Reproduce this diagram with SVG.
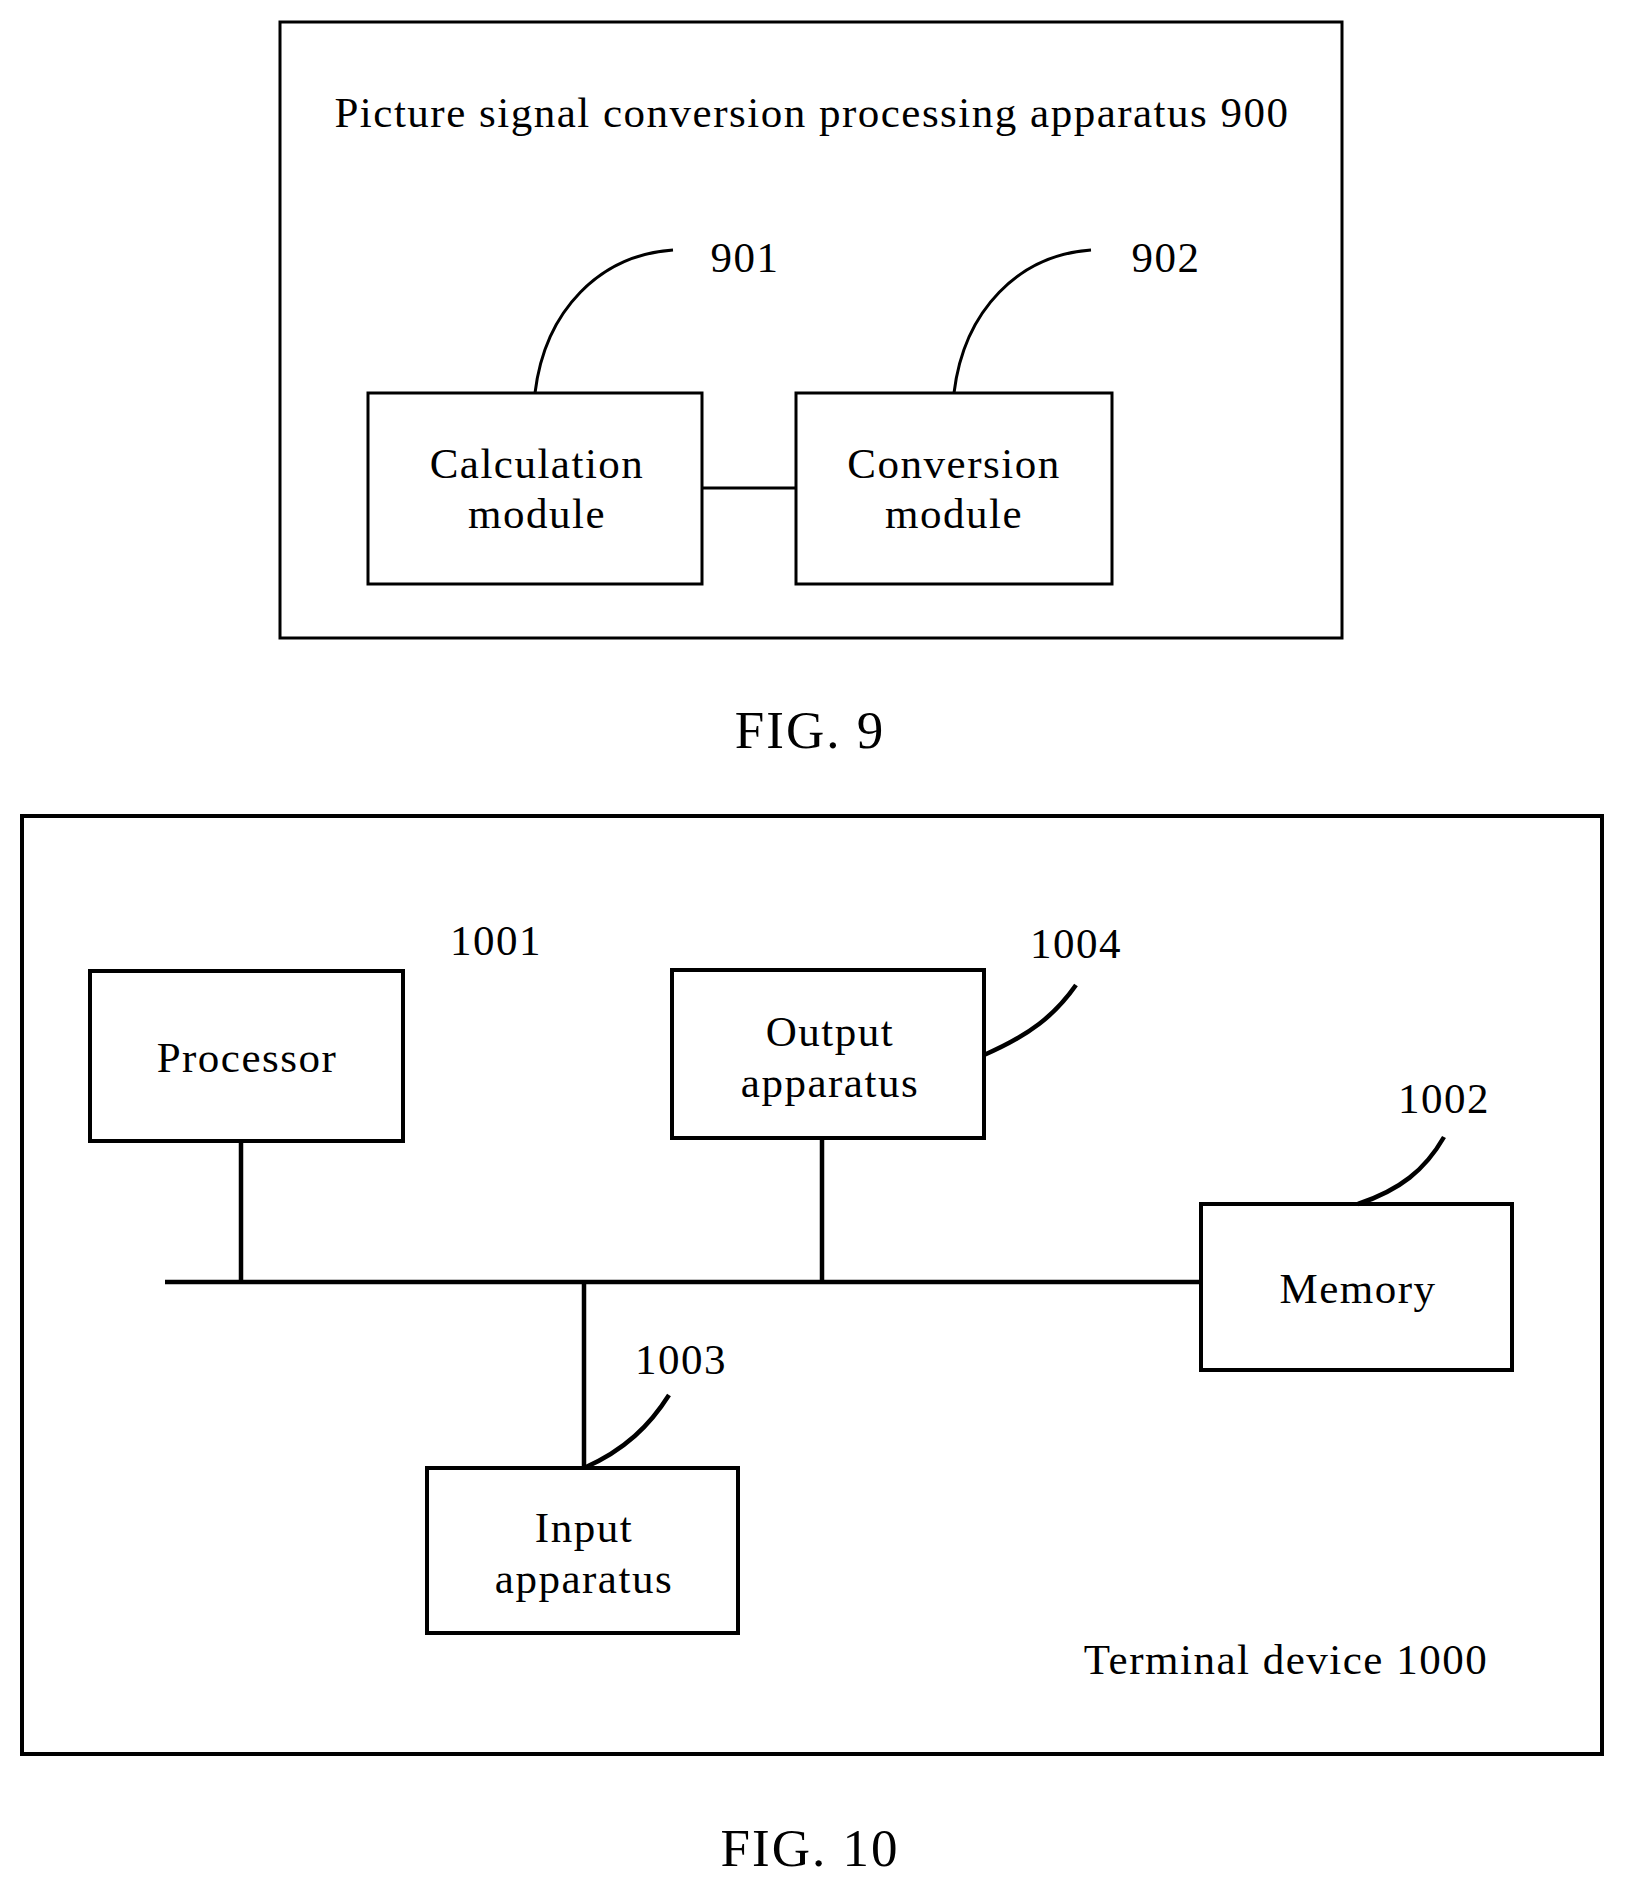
<svg xmlns="http://www.w3.org/2000/svg" width="1628" height="1895" viewBox="0 0 1628 1895">
<style>
rect{fill:none;stroke:#000;stroke-width:3}
.t rect{stroke-width:4}
.c path,.c line{fill:none;stroke:#000;stroke-width:3}
.c .b{stroke-width:4.5}
text{font-family:"Liberation Serif",serif;font-size:43px;letter-spacing:1.5px;text-anchor:middle;fill:#000}
.fig{font-size:53px;letter-spacing:2px}
</style>
<rect width="1628" height="1895" style="fill:#fff;stroke:none"/>
<g id="app900"><rect x="280" y="22" width="1062" height="616"/><text x="812" y="127">Picture signal conversion processing apparatus 900</text></g>
<g id="calc"><rect x="368" y="393" width="334" height="191"/><text x="537" y="478">Calculation</text><text x="537" y="528">module</text></g>
<g id="conv"><rect x="796" y="393" width="316" height="191"/><text x="954" y="478">Conversion</text><text x="954" y="528">module</text></g>
<text x="745" y="272">901</text><text x="1166" y="272">902</text>
<text class="fig" x="810" y="748">FIG. 9</text>
<g class="t">
<g id="dev1000"><rect x="22" y="816" width="1580" height="938"/><text x="1286" y="1674">Terminal device 1000</text></g>
<g id="proc"><rect x="90" y="971" width="313" height="170"/><text x="247" y="1072">Processor</text></g>
<g id="out"><rect x="672" y="970" width="312" height="168"/><text x="830" y="1046">Output</text><text x="830" y="1097">apparatus</text></g>
<g id="mem"><rect x="1201" y="1204" width="311" height="166"/><text x="1358" y="1303">Memory</text></g>
<g id="in"><rect x="427" y="1468" width="311" height="165"/><text x="584" y="1542">Input</text><text x="584" y="1593">apparatus</text></g>
</g>
<text x="496" y="955">1001</text><text x="1076" y="958">1004</text><text x="1444" y="1113">1002</text><text x="681" y="1374">1003</text>
<text class="fig" x="810" y="1866">FIG. 10</text>
<g class="c" id="connectors">
<line x1="702" y1="488" x2="796" y2="488"/>
<path d="M535,393 C545,310 600,255 673,250"/>
<path d="M954,393 C964,310 1019,255 1091,250"/>
<line class="b" x1="165" y1="1282" x2="1201" y2="1282"/>
<line class="b" x1="241" y1="1141" x2="241" y2="1282"/>
<line class="b" x1="822" y1="1138" x2="822" y2="1282"/>
<line class="b" x1="584" y1="1282" x2="584" y2="1468"/>
<path class="b" d="M984,1055 C1030,1035 1055,1015 1076,985"/>
<path class="b" d="M1358,1204 C1400,1190 1425,1170 1444,1137"/>
<path class="b" d="M584,1468 C625,1450 650,1425 669,1395"/>
</g>
</svg>
